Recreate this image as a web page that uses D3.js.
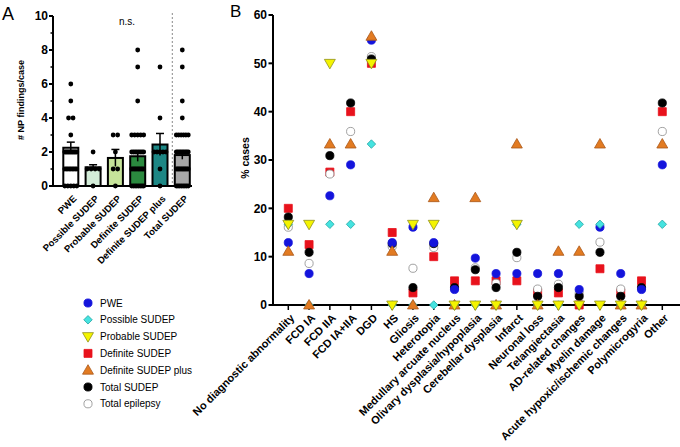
<!DOCTYPE html>
<html><head><meta charset="utf-8">
<script src="https://cdn.jsdelivr.net/npm/d3@7"></script>
<style>
body{margin:0;background:#fff;}
svg{font-family:"Liberation Sans",Arial,sans-serif;}
</style></head>
<body><svg id="c" width="680" height="447"></svg>
<script>
// ---------- Panel A data ----------
const groupsA = ["PWE","Possible SUDEP","Probable SUDEP","Definite SUDEP","Definite SUDEP plus","Total SUDEP"];
const meansA = [2.25,1.1,1.65,1.75,2.44,1.82];
const semA = [0.33,0.15,0.5,0.3,0.65,0.25];
const fillA = ["#ffffff","#d3ecd8","#c6e49a","#2b8a3f","#1d8785","#a8a8a8"];
const dotsPWE = [6,5,4,4,3,2,2,2,2,2,2,2,2,2,2,2,2,1,1,1,1,1,1,1,1,1,0,0,0,0,0];
const dotsPossible = [2,1,1,1,1,0];
const dotsProbable = [3,3,2,1,1,0];
const dotsDefinite = [8,7,5,3,3,3,3,3,2,2,2,2,2,2,2,2,1,1,1,1,1,1,1,1,1,1,0,0,0,0,0,0,0,0];
const dotsDefinitePlus = [7,4,2,2,2,2,2,1,0];
const dotsTotal = [8,7,5,4,3,3,3,3,3,3,2,2,2,2,2,2,2,2,2,1,1,1,1,1,1,1,1,1,1,1,0,0,0,0,0,0,0,0];
const dotsA = [dotsPWE,dotsPossible,dotsProbable,dotsDefinite,dotsDefinitePlus,dotsTotal];
const yTicksA = [0,2,4,6,8,10];
const yMinorA = [1,3,5,7,9];

// ---------- Panel B data ----------
const categories = ["No diagnostic abnormality","FCD IA","FCD IIA","FCD IA+IIA","DGD","HS","Gliosis","Heterotopia","Medullary arcuate nucleus","Olivary dysplasia/hypoplasia","Cerebellar dysplasia","Infarct","Neuronal loss","Telangiectasia","AD-related changes","Myelin damage","Acute hypoxic/ischemic changes","Polymicrogyria","Other"];
const pwe =            [12.9,6.5,22.6,29.0,54.8,12.9,16.1,12.9,3.2,9.7,6.5,6.5,6.5,6.5,3.2,16.1,6.5,3.2,29.0];
const possible =       [16.7,0,16.7,16.7,33.3,0,0,0,0,0,0,16.7,0,0,16.7,16.7,0,0,16.7];
const probable =       [16.7,16.7,50,66.7,50,0,16.7,16.7,0,0,0,16.7,0,0,0,0,0,0,66.7];
const definite =       [20,12.5,27.5,40,50,15,2.5,10,5,5,5,5,2.5,2.5,0,7.5,2.5,5,40];
const definitePlus =   [11.1,0,33.3,33.3,55.6,11.1,0,22.2,0,22.2,0,33.3,0,11.1,11.1,33.3,0,0,33.3];
const totalSudep =     [18.2,10.9,30.9,41.8,50.9,12.7,3.6,12.7,3.6,7.3,3.6,10.9,1.8,3.6,1.8,10.9,1.8,3.6,41.8];
const totalEpilepsy =  [16.1,8.6,27.1,35.9,51.4,12.1,7.6,11.9,3.5,7.7,4.5,9.8,3.3,4.3,2.4,13.0,3.3,3.5,35.9];
const yTicksB = [0,10,20,30,40,50,60];

const seriesB = [
  {name:"PWE", values:pwe, type:"circle", fill:"#1414dc", stroke:"#1414dc"},
  {name:"Possible SUDEP", values:possible, type:"diamond", fill:"#45e3e0", stroke:"#2aa9a8"},
  {name:"Probable SUDEP", values:probable, type:"tridown", fill:"#f4f400", stroke:"#8f8f20"},
  {name:"Definite SUDEP", values:definite, type:"square", fill:"#e8121c", stroke:"#e8121c"},
  {name:"Definite SUDEP plus", values:definitePlus, type:"triup", fill:"#e27b22", stroke:"#a9581a"},
  {name:"Total SUDEP", values:totalSudep, type:"circle", fill:"#000000", stroke:"#000000"},
  {name:"Total epilepsy", values:totalEpilepsy, type:"circle", fill:"#ffffff", stroke:"#8a8a8a"}
];
// draw order (bottom to top)
const drawOrder = ["Definite SUDEP","Total epilepsy","Total SUDEP","PWE","Possible SUDEP","Definite SUDEP plus","Probable SUDEP"];

const svg = d3.select("#c");

function symbolPath(type){
  if(type==="circle") return d3.symbol(d3.symbolCircle, 52)();
  if(type==="square") return d3.symbol(d3.symbolSquare, 64)();
  if(type==="diamond") return d3.symbol(d3.symbolSquare, 36)();
  return d3.symbol(d3.symbolTriangle, 52)();
}
function symbolTransform(type,x,y){
  let t = `translate(${x},${y})`;
  if(type==="diamond") t += " rotate(45)";
  if(type==="tridown") t += " rotate(180)";
  if(type==="triup" || type==="tridown") t += " translate(0,0.8)";
  return t;
}

// ================= Panel A =================
const gA = svg.append("g");
const yA = d3.scaleLinear().domain([0,10]).range([186,16]);
const xA = d3.scalePoint().domain(groupsA).range([70.8,182.3]);
const barW = 15;

gA.append("text").attr("x",2).attr("y",20).attr("font-size",18).text("A");

gA.append("line").attr("x1",172.3).attr("x2",172.3).attr("y1",13).attr("y2",186)
  .attr("stroke","#8a8a8a").attr("stroke-width",1).attr("stroke-dasharray","2,2");

gA.selectAll("rect.bar").data(groupsA).join("rect")
  .attr("x",d=>xA(d)-barW/2).attr("width",barW)
  .attr("y",(d,i)=>yA(meansA[i])).attr("height",(d,i)=>yA(0)-yA(meansA[i]))
  .attr("fill",(d,i)=>fillA[i]).attr("stroke","#000").attr("stroke-width",2);

groupsA.forEach((g,gi)=>{
  const vals = dotsA[gi];
  const counts = d3.rollup(vals, v=>v.length, v=>v);
  const pts = [];
  counts.forEach((k,v)=>{
    const s = k>1 ? Math.min(4.5, 12/(k-1)) : 0;
    for(let i=0;i<k;i++) pts.push({v, dx:(i-(k-1)/2)*s});
  });
  gA.selectAll(null).data(pts).join("circle")
    .attr("cx",d=>xA(g)+d.dx).attr("cy",d=>yA(d.v)).attr("r",2.4).attr("fill","#000");
});

groupsA.forEach((g,i)=>{
  const x = xA(g);
  gA.append("line").attr("x1",x).attr("x2",x).attr("y1",yA(meansA[i]-semA[i])).attr("y2",yA(meansA[i]+semA[i]))
    .attr("stroke","#000").attr("stroke-width",1.5);
  gA.append("line").attr("x1",x-4).attr("x2",x+4).attr("y1",yA(meansA[i]+semA[i])).attr("y2",yA(meansA[i]+semA[i]))
    .attr("stroke","#000").attr("stroke-width",1.5);
});

gA.append("line").attr("x1",53).attr("x2",53).attr("y1",yA(10)).attr("y2",yA(0)+1).attr("stroke","#000").attr("stroke-width",2);
gA.append("line").attr("x1",52).attr("x2",192).attr("y1",yA(0)).attr("y2",yA(0)).attr("stroke","#000").attr("stroke-width",2);
gA.selectAll("line.tmaj").data(yTicksA).join("line")
  .attr("x1",49).attr("x2",53).attr("y1",d=>yA(d)).attr("y2",d=>yA(d)).attr("stroke","#000").attr("stroke-width",2);
gA.selectAll("line.tmin").data(yMinorA).join("line")
  .attr("x1",50.5).attr("x2",53).attr("y1",d=>yA(d)).attr("y2",d=>yA(d)).attr("stroke","#000").attr("stroke-width",1.5);
gA.selectAll("text.yl").data(yTicksA).join("text")
  .attr("x",48).attr("y",d=>yA(d)).attr("dy","0.36em").attr("text-anchor","end")
  .attr("font-size",12).attr("font-weight","bold").text(d=>d);
gA.append("text").attr("transform","translate(24,100) rotate(-90)").attr("text-anchor","middle")
  .attr("font-size",9).attr("font-weight","bold").text("# NP findings/case");
gA.append("text").attr("x",127).attr("y",25).attr("text-anchor","middle").attr("font-size",10).text("n.s.");
gA.selectAll("text.xl").data(groupsA).join("text")
  .attr("transform",d=>`translate(${xA(d)+4},${yA(0)+11}) rotate(-45)`)
  .attr("text-anchor","end").attr("dy","0.35em")
  .attr("font-size",9.5).attr("font-weight","bold").text(d=>d);

// ================= Panel B =================
const gB = svg.append("g");
const yB = d3.scaleLinear().domain([0,60]).range([305,15]);
const xB = d3.scalePoint().domain(categories).range([288.3,662.3]);

gB.append("text").attr("x",230).attr("y",17).attr("font-size",17).text("B");

gB.append("line").attr("x1",273).attr("x2",273).attr("y1",yB(60)).attr("y2",yB(0)+1).attr("stroke","#000").attr("stroke-width",2);
gB.append("line").attr("x1",272).attr("x2",680).attr("y1",yB(0)).attr("y2",yB(0)).attr("stroke","#000").attr("stroke-width",2);
gB.selectAll("line.ty").data(yTicksB).join("line")
  .attr("x1",268.5).attr("x2",273).attr("y1",d=>yB(d)).attr("y2",d=>yB(d)).attr("stroke","#000").attr("stroke-width",2);
gB.selectAll("text.yl").data(yTicksB).join("text")
  .attr("x",267).attr("y",d=>yB(d)).attr("dy","0.36em").attr("text-anchor","end")
  .attr("font-size",12).attr("font-weight","bold").text(d=>d);
gB.append("text").attr("transform","translate(249,158) rotate(-90)").attr("text-anchor","middle")
  .attr("font-size",10.5).attr("font-weight","bold").text("% cases");
gB.selectAll("line.tx").data(categories).join("line")
  .attr("x1",d=>xB(d)).attr("x2",d=>xB(d)).attr("y1",yB(0)).attr("y2",yB(0)+5).attr("stroke","#000").attr("stroke-width",1.5);
gB.selectAll("text.xl").data(categories).join("text")
  .attr("transform",d=>`translate(${xB(d)+4},${yB(0)+11}) rotate(-45)`)
  .attr("text-anchor","end").attr("dy","0.35em")
  .attr("font-size",11).attr("font-weight","bold").text(d=>d);

drawOrder.forEach(name=>{
  const s = seriesB.find(d=>d.name===name);
  const pts = s.values.map((v,i)=>({v,c:categories[i]})).filter(d=>d.v<=60);
  gB.selectAll(null).data(pts).join("path")
    .attr("d",symbolPath(s.type))
    .attr("transform",d=>symbolTransform(s.type,xB(d.c),yB(d.v)))
    .attr("fill",s.fill).attr("stroke",s.stroke).attr("stroke-width",0.8);
});

const legX = 88, legY0 = 303, legDy = 16.8;
seriesB.forEach((s,i)=>{
  const y = legY0 + i*legDy;
  svg.append("path").attr("d",symbolPath(s.type)).attr("transform",symbolTransform(s.type,legX,y))
    .attr("fill",s.fill).attr("stroke",s.stroke).attr("stroke-width",0.8);
  svg.append("text").attr("x",legX+12).attr("y",y).attr("dy","0.35em").attr("font-size",10).text(s.name);
});
</script></body></html>
